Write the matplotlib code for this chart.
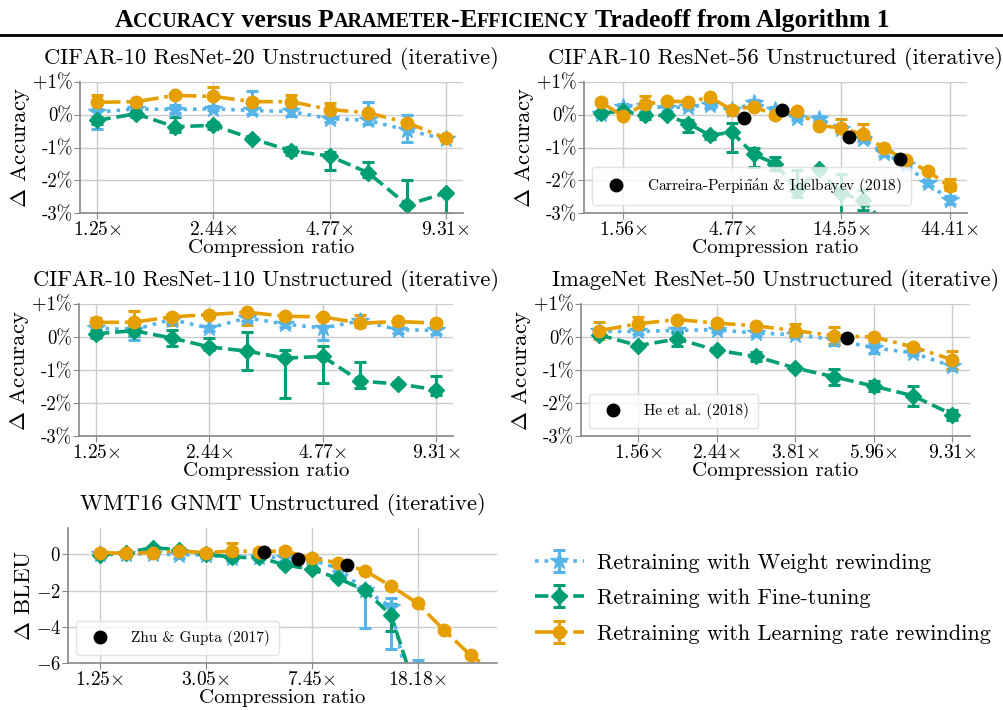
import numpy as np
import matplotlib.pyplot as plt
from matplotlib.lines import Line2D
from matplotlib.ticker import NullLocator

plt.rcParams['font.family'] = 'serif'
plt.rcParams['font.serif'] = ['cmr10']
plt.rcParams['mathtext.fontset'] = 'cm'
plt.rcParams['axes.unicode_minus'] = False
plt.rcParams['axes.formatter.use_mathtext'] = True

BLUE = '#56B4E9'
GREEN = '#009E73'
ORANGE = '#E69F00'

# compression ratios are powers of 1.25
ratios_10 = [1.25 ** k for k in range(1, 11)]
ratios_17 = [1.25 ** k for k in range(1, 18)]
ratios_16 = [1.25 ** k for k in range(1, 17)]
ratios_13 = [1.25 ** k for k in range(1, 14)]

# tick labels as printed
ticks_a = ['1.25', '2.44', '4.77', '9.31']
ticks_56 = ['1.56', '4.77', '14.55', '44.41']
ticks_50 = ['1.56', '2.44', '3.81', '5.96', '9.31']
ticks_gnmt = ['1.25', '3.05', '7.45', '18.18']

# CIFAR-10 ResNet-20 (delta accuracy, %)
r20_wr = [0.08, 0.18, 0.16, 0.18, 0.13, 0.10, -0.12, -0.17, -0.47, -0.75]
r20_wr_lo = [0.5, 0.1, 0.1, 0.05, 0.1, 0.15, 0.1, 0.1, 0.36, 0.05]
r20_wr_hi = [0.1, 0.1, 0.15, 0.1, 0.6, 0.1, 0.05, 0.57, 0.45, 0.05]
r20_ft = [-0.17, 0.03, -0.37, -0.32, -0.73, -1.10, -1.26, -1.77, -2.75, -2.39]
r20_ft_lo = [0.1, 0.1, 0.15, 0.1, 0.05, 0.12, 0.44, 0.12, 0.4, 0.65]
r20_ft_hi = [0.1, 0.1, 0.3, 0.1, 0.05, 0.12, 0.13, 0.34, 0.75, 0.05]
r20_lr = [0.38, 0.40, 0.59, 0.56, 0.40, 0.40, 0.16, 0.06, -0.24, -0.71]
r20_lr_lo = [0.05] * 10
r20_lr_hi = [0.22, 0.03, 0.07, 0.3, 0.05, 0.2, 0.2, 0.05, 0.05, 0.05]

# CIFAR-10 ResNet-56
r56_wr = [0.01, 0.25, 0.28, 0.20, 0.25, 0.30, 0.13, 0.36, 0.16, -0.09, -0.12,
          -0.42, -0.73, -1.18, -1.53, -2.09, -2.60]
r56_wr_err = [0.08] * 16 + [0.12]
r56_ft = [0.05, 0.11, -0.02, -0.02, -0.27, -0.63, -0.53, -1.21, -1.50, -2.30,
          -1.67, -2.40, -2.60, -3.30, -4.20, -5.00, -6.00]
r56_ft_lo = [0.05, 0.05, 0.1, 0.05, 0.25, 0.1, 0.62, 0.4, 0.2, 0.2, 0.05, 1.0,
             0.3, 0.2, 0.2, 0.2, 0.2]
r56_ft_hi = [0.05, 0.05, 0.1, 0.05, 0.1, 0.1, 0.28, 0.2, 0.2, 0.6, 0.05, 0.6,
             0.3, 0.2, 0.2, 0.2, 0.2]
r56_lr = [0.38, -0.05, 0.33, 0.41, 0.40, 0.53, 0.15, 0.25, -0.02, 0.10, -0.34,
          -0.39, -0.60, -1.03, -1.38, -1.72, -2.19]
r56_lr_lo = [0.05] * 11 + [0.15, 0.05, 0.05, 0.05, 0.05, 0.1]
r56_lr_hi = [0.1, 0.05, 0.25, 0.05, 0.05, 0.05, 0.1, 0.05, 0.05, 0.05, 0.05,
             0.25, 0.33, 0.05, 0.05, 0.05, 0.22]
cpi_x = [5.38, 8.0, 15.9, 26.8]
cpi_y = [-0.09, 0.15, -0.68, -1.35]

# CIFAR-10 ResNet-110
r110_wr = [0.27, 0.22, 0.53, 0.27, 0.58, 0.39, 0.27, 0.49, 0.22, 0.20]
r110_wr_lo = [0.3, 0.3, 0.1, 0.1, 0.1, 0.1, 0.37, 0.1, 0.1, 0.1]
r110_wr_hi = [0.05] * 10
r110_ft = [0.10, 0.19, -0.03, -0.30, -0.43, -0.64, -0.59, -1.34, -1.42, -1.60]
r110_ft_lo = [0.1, 0.15, 0.25, 0.1, 0.58, 1.2, 0.8, 0.2, 0.05, 0.15]
r110_ft_hi = [0.1, 0.15, 0.25, 0.28, 0.58, 0.25, 0.32, 0.58, 0.05, 0.42]
r110_lr = [0.44, 0.45, 0.61, 0.68, 0.75, 0.63, 0.61, 0.42, 0.47, 0.42]
r110_lr_lo = [0.1, 0.15, 0.25, 0.05, 0.4, 0.05, 0.05, 0.05, 0.1, 0.05]
r110_lr_hi = [0.15, 0.33, 0.1, 0.05, 0.05, 0.05, 0.05, 0.25, 0.05, 0.05]

# ImageNet ResNet-50
r50_wr = [0.17, 0.17, 0.20, 0.22, 0.12, 0.07, -0.08, -0.33, -0.48, -0.89]
r50_wr_err = [0.08, 0.08, 0.08, 0.08, 0.08, 0.08, 0.15, 0.15, 0.08, 0.1]
r50_ft = [0.07, -0.26, -0.06, -0.40, -0.59, -0.94, -1.21, -1.49, -1.78, -2.35]
r50_ft_err = [0.05, 0.05, 0.2, 0.05, 0.15, 0.05, 0.25, 0.15, 0.3, 0.15]
r50_lr = [0.19, 0.40, 0.53, 0.42, 0.34, 0.19, 0.04, 0.00, -0.30, -0.69]
r50_lr_err = [0.25, 0.2, 0.05, 0.05, 0.05, 0.2, 0.25, 0.05, 0.05, 0.28]
he_x = [5.12]
he_y = [-0.02]

# WMT16 GNMT (delta BLEU)
gnmt_wr = [0.0, 0.02, 0.02, -0.03, -0.03, -0.22, -0.13, -0.20, -0.31, -0.77,
           -1.97, -2.90, -9.6]
gnmt_wr_lo = [0.15] * 10 + [2.1, 2.3, 0.5]
gnmt_wr_hi = [0.15] * 10 + [0.2, 0.5, 3.75]
gnmt_ft = [-0.04, 0.09, 0.37, 0.24, 0.02, -0.17, -0.17, -0.59, -0.83, -1.33,
           -1.97, -3.36, -7.85]
gnmt_ft_lo = [0.1] * 11 + [0.9, 0.3]
gnmt_ft_hi = [0.1] * 11 + [0.6, 0.3]
gnmt_lr = [0.09, 0.05, 0.09, 0.18, 0.09, 0.18, 0.15, 0.18, -0.22, -0.46, -0.90,
           -1.75, -2.71, -4.19, -5.57, -6.6]
gnmt_lr_err = [0.15, 0.15, 0.15, 0.15, 0.15, 0.45, 0.15, 0.15, 0.1, 0.1, 0.1,
               0.1, 0.1, 0.1, 0.1, 0.1]
zg_x = [5.0, 6.67, 10.0]
zg_y = [0.1, -0.28, -0.6]

labels = ['Retraining with Weight rewinding', 'Retraining with Fine-tuning',
          'Retraining with Learning rate rewinding']

W, H = 1004, 710
fig = plt.figure(figsize=(W / 100, H / 100), dpi=100)


def px_axes(l, t, r, b):
    return fig.add_axes([l / W, 1 - b / H, (r - l) / W, (b - t) / H])


def style(ax, title, xticks, xlabels, ylabel, yticks, yticklabels, ylim):
    ax.set_xscale('log')
    ax.set_xticks(xticks)
    ax.set_xticklabels([s + '$\\times$' for s in xlabels], fontsize=14)
    ax.xaxis.set_minor_locator(NullLocator())
    ax.set_yticks(yticks)
    ax.set_yticklabels(yticklabels, fontsize=13.5)
    ax.set_ylim(*ylim)
    ax.grid(True, color='#cccccc', lw=1)
    ax.set_axisbelow(True)
    for s in ['top', 'right']:
        ax.spines[s].set_visible(False)
    for s in ['left', 'bottom']:
        ax.spines[s].set_color('#888888')
        ax.spines[s].set_linewidth(1.2)
    ax.tick_params(color='#888888', length=4, pad=2)
    ax.tick_params(axis='y', pad=1)
    ax.set_title(title, fontsize=16.2, pad=13)
    ax.set_xlabel('Compression ratio', fontsize=15, labelpad=0)
    ax.set_ylabel(ylabel, fontsize=16.5, labelpad=1)


def draw(ax, x, wr, wr_err, ft, ft_err, lr, lr_err, xs_wr=None, xs_ft=None):
    xw = x if xs_wr is None else xs_wr
    xf = x if xs_ft is None else xs_ft
    kw = dict(lw=2.6, capsize=4, capthick=2.2, elinewidth=2.2)
    h1 = ax.errorbar(xw, wr, yerr=wr_err, color=BLUE, ls=':', marker='*', ms=13, **kw)
    h2 = ax.errorbar(xf, ft, yerr=ft_err, color=GREEN, ls='--', marker='D', ms=8, **kw)
    h3 = ax.errorbar(x, lr, yerr=lr_err, color=ORANGE, ls='-.', marker='o', ms=9, **kw)
    return [h1, h2, h3]


def small_legend(ax):
    ax.legend(loc='lower left', fontsize=11, framealpha=0.8, edgecolor='#dddddd',
              handletextpad=1.0, borderpad=0.6)


acc_ticks = [1, 0, -1, -2, -3]
acc_labels = ['+1%', '0%', '-1%', '-2%', '-3%']

ax1 = px_axes(80, 82, 463, 213)
handles = draw(ax1, ratios_10, r20_wr, [r20_wr_lo, r20_wr_hi], r20_ft, [r20_ft_lo, r20_ft_hi],
               r20_lr, [r20_lr_lo, r20_lr_hi])
style(ax1, 'CIFAR-10 ResNet-20 Unstructured (iterative)', [ratios_10[i] for i in (0, 3, 6, 9)],
      ticks_a, '$\\Delta$ Accuracy', acc_ticks, acc_labels, (-3, 1))

ax2 = px_axes(584, 82, 967, 213)
draw(ax2, ratios_17, r56_wr, r56_wr_err, r56_ft, [r56_ft_lo, r56_ft_hi], r56_lr, [r56_lr_lo, r56_lr_hi])
ax2.plot(cpi_x, cpi_y, 'o', color='black', ms=9, zorder=5,
         label='Carreira-Perpi$\\tilde{\\mathrm{n}}\\acute{\\mathrm{a}}$n & Idelbayev (2018)')
style(ax2, 'CIFAR-10 ResNet-56 Unstructured (iterative)', [ratios_17[i] for i in (1, 6, 11, 16)],
      ticks_56, '$\\Delta$ Accuracy', acc_ticks, acc_labels, (-3, 1))
small_legend(ax2)

ax3 = px_axes(79, 304, 453, 436)
draw(ax3, ratios_10, r110_wr, [r110_wr_lo, r110_wr_hi], r110_ft, [r110_ft_lo, r110_ft_hi],
     r110_lr, [r110_lr_lo, r110_lr_hi])
style(ax3, 'CIFAR-10 ResNet-110 Unstructured (iterative)', [ratios_10[i] for i in (0, 3, 6, 9)],
      ticks_a, '$\\Delta$ Accuracy', acc_ticks, acc_labels, (-3, 1))

ax4 = px_axes(581, 304, 970, 436)
draw(ax4, ratios_10, r50_wr, r50_wr_err, r50_ft, r50_ft_err, r50_lr, r50_lr_err)
ax4.plot(he_x, he_y, 'o', color='black', ms=9, zorder=5, label='He et al. (2018)')
style(ax4, 'ImageNet ResNet-50 Unstructured (iterative)', [ratios_10[i] for i in (1, 3, 5, 7, 9)],
      ticks_50, '$\\Delta$ Accuracy', acc_ticks, acc_labels, (-3, 1))
small_legend(ax4)

ax5 = px_axes(68, 528, 497, 663)
draw(ax5, ratios_16, gnmt_wr, [gnmt_wr_lo, gnmt_wr_hi], gnmt_ft, [gnmt_ft_lo, gnmt_ft_hi],
     gnmt_lr, gnmt_lr_err, xs_wr=ratios_13, xs_ft=ratios_13)
ax5.plot(zg_x, zg_y, 'o', color='black', ms=9, zorder=5, label='Zhu & Gupta (2017)')
style(ax5, 'WMT16 GNMT Unstructured (iterative)', [ratios_16[i] for i in (0, 4, 8, 12)],
      ticks_gnmt, '$\\Delta$ BLEU', [0, -2, -4, -6], ['$0$', '$-2$', '$-4$', '$-6$'], (-6, 1.45))
ax5.set_xlim(1.25 ** -0.2, 1.25 ** 16)
small_legend(ax5)

fig.legend(handles, labels, loc='upper left', bbox_to_anchor=(515 / W, 1 - 533 / H),
           frameon=False, fontsize=16, handlelength=2.2, handletextpad=0.6, labelspacing=0.72)

# title with fake small caps
renderer = fig.canvas.get_renderer()
pieces = [('A', 1), ('CCURACY', 0), (' versus ', 1), ('P', 1), ('ARAMETER', 0), ('-', 1),
          ('E', 1), ('FFICIENCY', 0), (' Tradeoff from Algorithm 1', 1)]
big, small = 18.5, 14.5
texts = []
x = 0
for s, is_big in pieces:
    t = fig.text(0, 1 - 27 / H, s, fontsize=big if is_big else small, fontweight='bold',
                 family='Liberation Serif', ha='left', va='baseline')
    w = t.get_window_extent(renderer).width
    texts.append((t, x))
    x += w
start = (W - x) / 2
for t, off in texts:
    t.set_x((start + off) / W)

fig.add_artist(Line2D([0, 1], [1 - 35 / H, 1 - 35 / H], color='black', lw=2, transform=fig.transFigure))

fig.savefig('out.png', dpi=100)
